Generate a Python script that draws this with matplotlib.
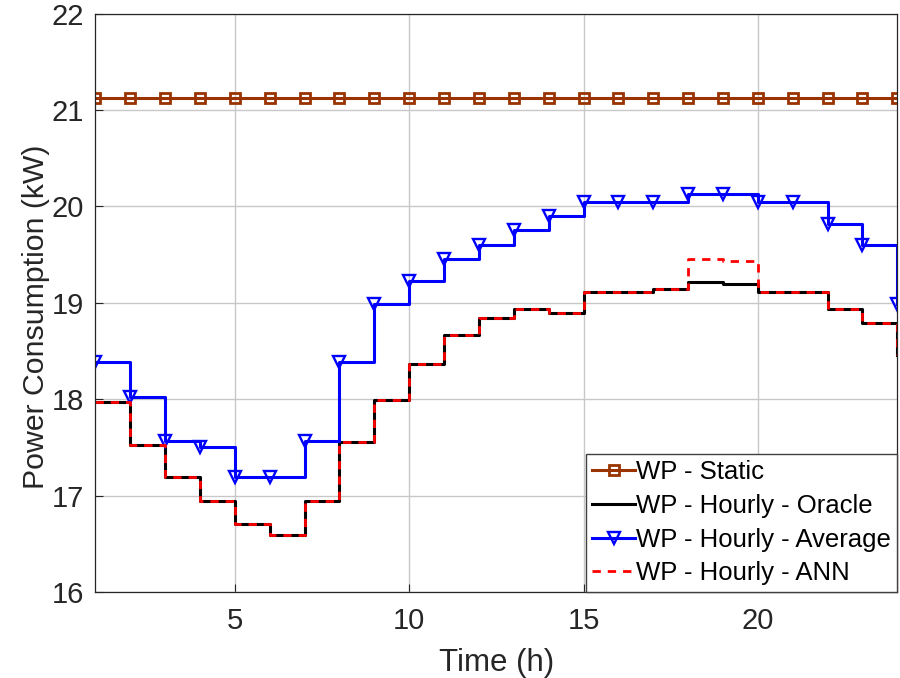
import numpy as np
import matplotlib.pyplot as plt

hours = np.arange(1, 25)

static = [21.12] * 24
oracle = [17.97, 17.52, 17.19, 16.94, 16.70, 16.59, 16.94, 17.56, 17.99, 18.36,
          18.66, 18.84, 18.94, 18.89, 19.11, 19.11, 19.14, 19.21, 19.19, 19.11,
          19.11, 18.93, 18.79, 18.46]
average = [18.39, 18.02, 17.57, 17.50, 17.19, 17.19, 17.57, 18.39, 18.99, 19.23,
           19.45, 19.60, 19.75, 19.90, 20.05, 20.05, 20.05, 20.13, 20.13, 20.05,
           20.05, 19.82, 19.60, 18.99]
ann = [17.97, 17.52, 17.19, 16.94, 16.70, 16.59, 16.94, 17.56, 17.99, 18.36,
       18.66, 18.84, 18.94, 18.89, 19.11, 19.11, 19.14, 19.45, 19.43, 19.11,
       19.11, 18.93, 18.79, 18.46]

plt.rcParams.update({
    "font.family": ["Liberation Sans", "DejaVu Sans"],
    "font.size": 20,
})

fig = plt.figure(figsize=(9, 6.78), dpi=100)
ax = fig.add_axes([0.106, 0.127, 0.891, 0.853])

ax.step(hours, static, where="post", color="#993300", lw=2.2, marker="s",
        ms=7.5, mfc="none", mew=2.0, label="WP - Static")
ax.step(hours, oracle, where="post", color="black", lw=2.2,
        label="WP - Hourly - Oracle")
ax.step(hours, average, where="post", color="#0000ff", lw=2.2, marker="v",
        ms=8.5, mfc="none", mew=1.7, label="WP - Hourly - Average")
ax.step(hours, ann, where="post", color="#ff0000", lw=2.0, ls=(0, (3, 2.5)),
        label="WP - Hourly - ANN")

ax.set_xlim(1, 24)
ax.set_ylim(16, 22)
ax.set_xticks([5, 10, 15, 20])
ax.set_yticks(np.arange(16, 23, 1))
ax.grid(True, color="#c8c8c8", lw=1.0)
ax.tick_params(direction="in", length=6, colors="#262626", labelsize=21)
ax.tick_params(axis="x", pad=11)
ax.tick_params(axis="y", pad=8)
for s in ax.spines.values():
    s.set_color("#262626")
    s.set_linewidth(0.9)

ax.set_xlabel("Time (h)", fontsize=22.5, labelpad=9, color="#262626")
ax.set_ylabel("Power Consumption (kW)", fontsize=21.8, color="#262626")
ax.yaxis.set_label_coords(-0.056, 0.475)

leg = ax.legend(loc="lower right", fontsize=18.5, fancybox=False, framealpha=1,
                edgecolor="#404040", borderpad=0.25, labelspacing=0.38,
                handlelength=1.65, handletextpad=0.05, borderaxespad=0.0)
leg.get_frame().set_linewidth(1.0)

fig.savefig("out.png", dpi=100)
